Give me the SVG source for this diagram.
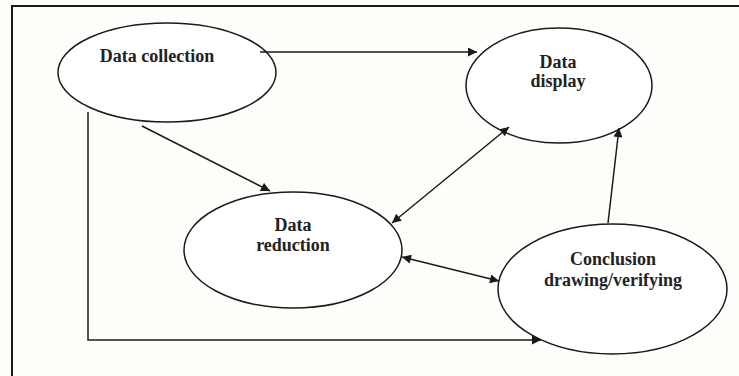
<svg xmlns="http://www.w3.org/2000/svg" width="739" height="376" viewBox="0 0 739 376">
<defs>
<marker id="ah" viewBox="0 0 10 10" refX="10" refY="5" markerWidth="10" markerHeight="9" markerUnits="userSpaceOnUse" orient="auto-start-reverse">
<path d="M0,0 L10,5 L0,10 Z" fill="#1a1a1a"/>
</marker>
</defs>
<style>
.node ellipse{fill:#ffffff;stroke:#1a1a1a;stroke-width:1.5}
.node text{font-family:"Liberation Serif","Times New Roman",serif;font-weight:bold;font-size:18px;fill:#222;text-anchor:middle}
.edges path{fill:none;stroke:#1a1a1a;stroke-width:1.5}
.frame{fill:none;stroke:#1a1a1a;stroke-width:2}
</style>
<rect width="739" height="376" fill="#fdfdfa"/>
<path class="frame" d="M12,376 V6 H739"/>
<g id="n-collection" class="node">
<ellipse cx="167" cy="72.5" rx="109" ry="49.5"/>
<text x="157" y="62">Data collection</text>
</g>
<g id="n-display" class="node">
<ellipse cx="559" cy="85.5" rx="93" ry="57.5"/>
<text x="558" y="68">Data</text>
<text x="558" y="87">display</text>
</g>
<g id="n-reduction" class="node">
<ellipse cx="293" cy="250" rx="109" ry="58"/>
<text x="293" y="231">Data</text>
<text x="293" y="251">reduction</text>
</g>
<g id="n-conclusion" class="node">
<ellipse cx="612.5" cy="289" rx="114.5" ry="65"/>
<text x="613" y="265">Conclusion</text>
<text x="613" y="286">drawing/verifying</text>
</g>
<g id="edges" class="edges">
<path d="M260,52 H477" marker-end="url(#ah)"/>
<path d="M142,126 L270,191" marker-end="url(#ah)"/>
<path d="M88,112 V340 H541" marker-end="url(#ah)"/>
<path d="M509,127 L392,223" marker-start="url(#ah)" marker-end="url(#ah)"/>
<path d="M402,257 L499,281" marker-start="url(#ah)" marker-end="url(#ah)"/>
<path d="M608,223 L619,128" marker-end="url(#ah)"/>
</g>
</svg>
